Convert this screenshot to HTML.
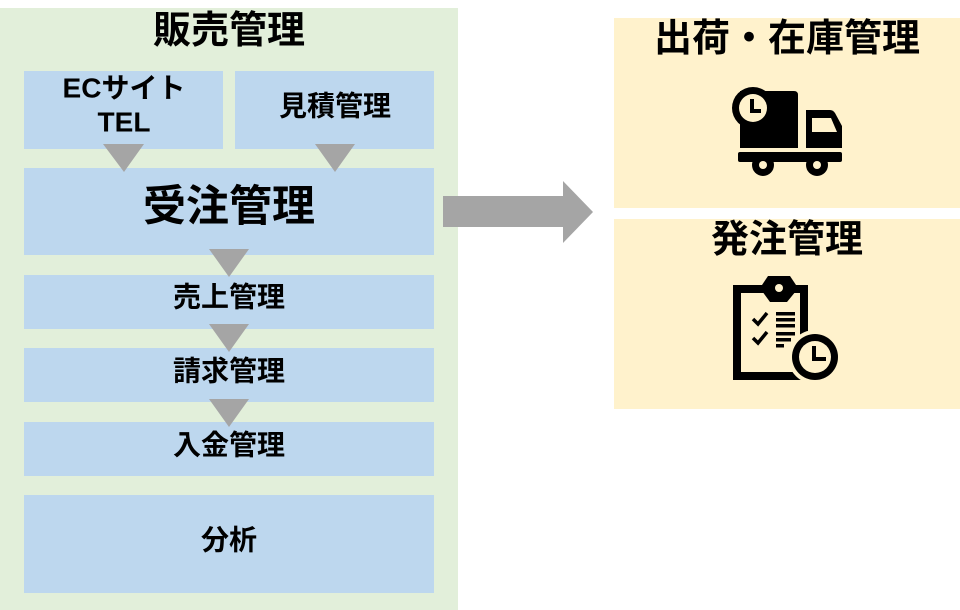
<!DOCTYPE html>
<html><head><meta charset="utf-8"><style>
html,body{margin:0;padding:0;background:#fff;width:960px;height:610px;overflow:hidden}
svg text{font-family:"Liberation Sans","Noto Sans CJK JP",sans-serif;font-weight:bold;fill:#000}
</style></head><body>
<svg width="960" height="610" viewBox="0 0 960 610" xmlns="http://www.w3.org/2000/svg">
<rect x="0" y="8" width="458" height="602" fill="#E2EFDA"/>
<text x="229" y="31" font-size="38" text-anchor="middle" dominant-baseline="central">販売管理</text>
<rect x="24" y="71" width="199" height="78" fill="#BDD7EE"/>
<rect x="235" y="71" width="199" height="78" fill="#BDD7EE"/>
<text x="124" y="88" font-size="28" text-anchor="middle" dominant-baseline="central">ECサイト</text>
<text x="124" y="122" font-size="28" text-anchor="middle" dominant-baseline="central">TEL</text>
<text x="335" y="106" font-size="28" text-anchor="middle" dominant-baseline="central">見積管理</text>
<rect x="24" y="168" width="410" height="87" fill="#BDD7EE"/>
<text x="229" y="207" font-size="43" text-anchor="middle" dominant-baseline="central">受注管理</text>
<rect x="24" y="275" width="410" height="54" fill="#BDD7EE"/>
<text x="229" y="297" font-size="28" text-anchor="middle" dominant-baseline="central">売上管理</text>
<rect x="24" y="348" width="410" height="54" fill="#BDD7EE"/>
<text x="229" y="371" font-size="28" text-anchor="middle" dominant-baseline="central">請求管理</text>
<rect x="24" y="422" width="410" height="54" fill="#BDD7EE"/>
<text x="229" y="445" font-size="28" text-anchor="middle" dominant-baseline="central">入金管理</text>
<rect x="24" y="495" width="410" height="98" fill="#BDD7EE"/>
<text x="229" y="540" font-size="28" text-anchor="middle" dominant-baseline="central">分析</text>
<g fill="#A5A5A5">
<polygon points="103,144 144,144 124,172"/>
<polygon points="315,144 355,144 335,172"/>
<polygon points="209,249 249,249 229,277"/>
<polygon points="209,324 249,324 229,352"/>
<polygon points="209,399 249,399 229,427"/>
<polygon points="443,196 563,196 563,181 593,212 563,243 563,227 443,227"/>
</g>
<rect x="614" y="18" width="346" height="190" fill="#FFF2CC"/>
<rect x="614" y="219" width="346" height="190" fill="#FFF2CC"/>
<text x="787" y="39" font-size="38" text-anchor="middle" dominant-baseline="central">出荷・在庫管理</text>
<text x="787" y="240" font-size="38" text-anchor="middle" dominant-baseline="central">発注管理</text>
<!-- truck -->
<g>
<path d="M740,91 L794,91 Q798,91 798,95 L798,148 L740,148 Z" fill="#000"/>
<path d="M806,110 L830,110 Q833,110 835,113 L842,126 L842,148 L806,148 Z" fill="#000"/>
<rect x="812" y="118" width="16" height="14" fill="#FFF2CC"/>
<path d="M828,118 L831,118 L837,132 L828,132 Z" fill="#FFF2CC"/>
<rect x="738" y="152" width="104" height="10" rx="2" fill="#000"/>
<circle cx="753" cy="108" r="21" fill="#000"/>
<circle cx="753" cy="108" r="14" fill="#FFF2CC"/>
<path d="M752,99 L752,111 L761,111" stroke="#000" stroke-width="4" fill="none"/>
<circle cx="763" cy="165" r="11" fill="#000"/>
<circle cx="763" cy="165" r="4" fill="#FFF2CC"/>
<circle cx="817" cy="165" r="11" fill="#000"/>
<circle cx="817" cy="165" r="4" fill="#FFF2CC"/>
</g>
<!-- clipboard -->
<g>
<path d="M733,285 L808,285 L808,380 L733,380 Z M741,293 L741,372 L800,372 L800,293 Z" fill="#000" fill-rule="evenodd"/>
<path d="M762,285 L768,276 L790,276 L796,285 L796,291 L787,302 L770,302 L762,291 Z" fill="#000"/>
<circle cx="779" cy="288" r="4" fill="#FFF2CC"/>
<path d="M753,319 L758,324 L767,313" stroke="#000" stroke-width="3.5" fill="none"/>
<path d="M753,338 L758,343 L767,332" stroke="#000" stroke-width="3.5" fill="none"/>
<g fill="#000">
<rect x="776" y="312" width="19" height="3.5"/>
<rect x="776" y="318" width="19" height="3.5"/>
<rect x="776" y="324" width="19" height="3.5"/>
<rect x="776" y="332" width="19" height="3.5"/>
<rect x="776" y="338" width="15" height="3.5"/>
<rect x="776" y="344" width="8" height="3.5"/>
</g>
<circle cx="815" cy="357" r="27" fill="#FFF2CC"/>
<circle cx="815" cy="357" r="23" fill="#000"/>
<circle cx="815" cy="357" r="16" fill="#FFF2CC"/>
<path d="M814,346 L814,359 L826,359" stroke="#000" stroke-width="4" fill="none"/>
</g>
</svg>
</body></html>
